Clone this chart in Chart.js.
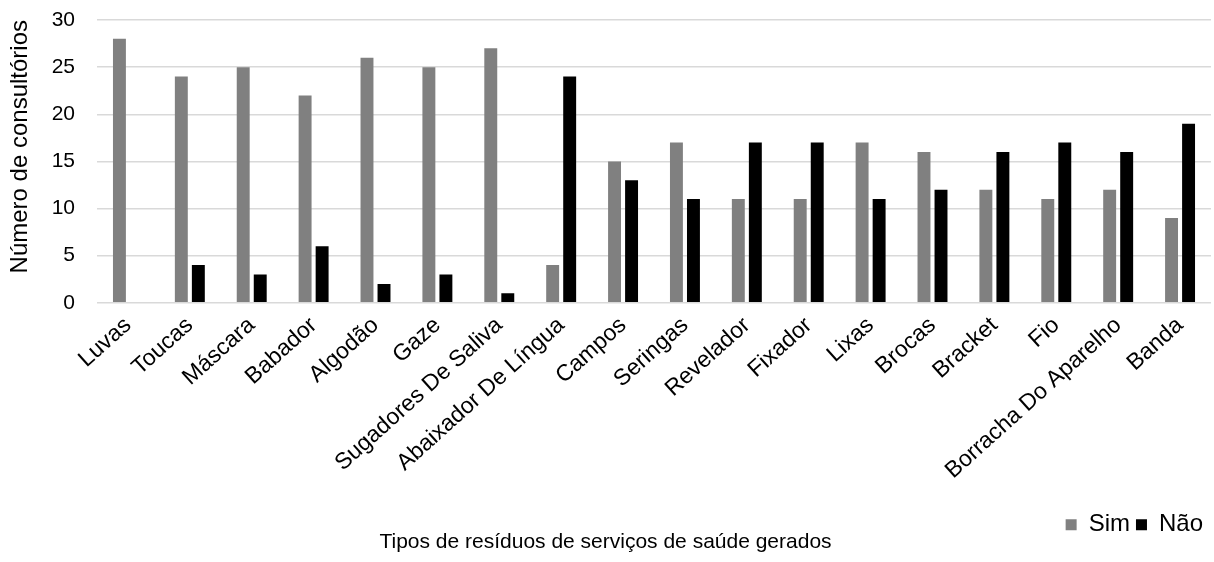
<!DOCTYPE html>
<html>
<head>
<meta charset="utf-8">
<script src="https://cdn.jsdelivr.net/npm/chart.js@4/dist/chart.umd.min.js"></script>
<style>
  html, body { margin: 0; padding: 0; background: #fff; }
  #wrap { width: 1214px; height: 562px; position: relative; }
</style>
</head>
<body>
<div id="wrap"><canvas id="c"></canvas></div>
<script>
// Tipos de resíduos (categorias do eixo X)
const categorias = [
  'Luvas', 'Toucas', 'Máscara', 'Babador', 'Algodão', 'Gaze',
  'Sugadores De Saliva', 'Abaixador De Língua', 'Campos', 'Seringas',
  'Revelador', 'Fixador', 'Lixas', 'Brocas', 'Bracket', 'Fio',
  'Borracha Do Aparelho', 'Banda'
];
// Número de consultórios que geram cada resíduo
const sim = [28, 24, 25, 22, 26, 25, 27, 4, 15, 17, 11, 11, 17, 16, 12, 11, 12, 9];
// Número de consultórios que não geram
const nao = [0, 4, 3, 6, 2, 3, 1, 24, 13, 11, 17, 17, 11, 12, 16, 17, 16, 19];
// Marcas do eixo Y
const marcasY = [0, 5, 10, 15, 20, 25, 30];

const fonte = 'Liberation Sans, Arial, sans-serif';

// Desce a legenda para ficar logo acima do título inferior
const ajusteLegenda = {
  id: 'ajusteLegenda',
  afterLayout(chart) {
    const lg = chart.legend;
    if (lg) { lg.top += 17; lg.bottom += 17; lg.left -= 2; lg.right -= 2; }
  }
};

new Chart(document.getElementById('c'), {
  type: 'bar',
  data: {
    labels: categorias,
    datasets: [
      { label: 'Sim', data: sim, backgroundColor: '#808080',
        categoryPercentage: 0.55, barPercentage: 0.76 },
      { label: 'Não', data: nao, backgroundColor: '#000000',
        categoryPercentage: 0.55, barPercentage: 0.76 }
    ]
  },
  plugins: [ajusteLegenda],
  options: {
    responsive: true,
    maintainAspectRatio: false,
    animation: false,
    layout: { padding: { left: 0, right: 3, top: 20, bottom: 0 } },
    plugins: {
      legend: {
        position: 'bottom',
        align: 'end',
        labels: {
          color: '#000',
          font: { family: fonte, size: 24 },
          boxWidth: 11,
          boxHeight: 11,
          padding: 6
        }
      },
      title: {
        display: true,
        position: 'bottom',
        text: 'Tipos de resíduos de serviços de saúde gerados',
        color: '#000',
        font: { family: fonte, size: 21, weight: 'normal' },
        padding: { top: 0, bottom: 7 }
      },
      tooltip: { enabled: false }
    },
    scales: {
      x: {
        grid: { display: false, drawTicks: false },
        border: { display: false },
        ticks: {
          color: '#000',
          font: { family: fonte, size: 23 },
          minRotation: 42,
          maxRotation: 42,
          autoSkip: false,
          padding: 9
        },
        afterFit: (s) => { s.height = 187; }
      },
      y: {
        min: 0,
        max: 30,
        afterBuildTicks: (s) => { s.ticks = marcasY.map(v => ({ value: v })); },
        grid: {
          color: '#d9d9d9', lineWidth: 1.5,
          drawTicks: true, tickLength: 20, tickColor: 'rgba(0,0,0,0)'
        },
        border: { display: false },
        ticks: {
          color: '#000',
          font: { family: fonte, size: 21 },
          padding: 2
        },
        title: {
          display: true,
          text: 'Número de consultórios',
          align: 'end',
          color: '#000',
          font: { family: fonte, size: 24 },
          padding: { top: 6, bottom: 4 }
        },
        afterFit: (s) => { s.width = 97; }
      }
    }
  }
});
</script>
</body>
</html>
